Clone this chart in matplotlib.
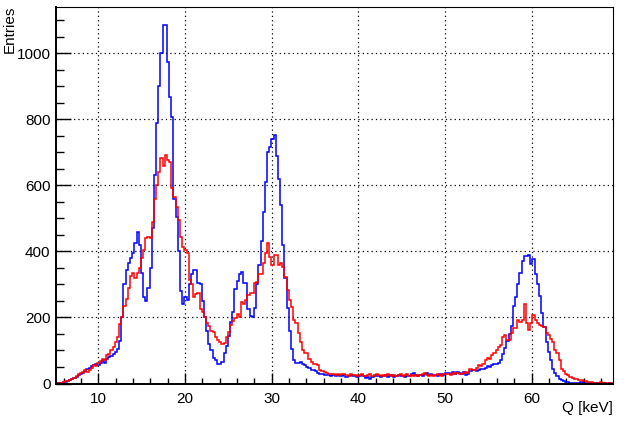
import numpy as np
import matplotlib
matplotlib.use("Agg")
import matplotlib.pyplot as plt
from matplotlib.ticker import MultipleLocator

plt.rcParams['font.family'] = ['Liberation Sans', 'DejaVu Sans']

x_min, x_max, n_bins = 5.1, 69.4, 256
y_max = 1140

# Blue histogram (256 bins, 4 bins per row ~ 1 keV per row)
blue = [
    2, 3, 3, 5,          # 5
    6, 9, 11, 14,        # 6
    17, 21, 25, 29,      # 7
    33, 38, 43, 47,      # 8
    52, 56, 60, 57,      # 9
    63, 67, 62, 74,      # 10
    80, 84, 90, 96,      # 11
    105, 130, 200, 300,  # 12
    345, 365, 380, 395,  # 13
    425, 458, 420, 335,  # 14
    262, 250, 290, 350,  # 15
    470, 630, 790, 900,  # 16
    1000, 1086, 1086, 972,  # 17
    868, 808, 560, 505,  # 18
    400, 280, 242, 262,  # 19
    252, 300, 333, 343,  # 20
    343, 305, 300, 250,  # 21
    200, 160, 120, 100,  # 22
    78, 70, 60, 60,      # 23
    65, 92, 115, 145,    # 24
    185, 215, 285, 310,  # 25
    333, 338, 303, 303,  # 26
    225, 205, 202, 230,  # 27
    300, 360, 430, 520,  # 28
    610, 700, 715, 740,  # 29
    752, 690, 620, 540,  # 30
    420, 320, 230, 160,  # 31
    105, 72, 62, 63,     # 32
    65, 58, 55, 50,      # 33
    46, 42, 40, 37,      # 34
    33, 30, 28, 27,      # 35
    26, 25, 24, 25,      # 36
    23, 26, 22, 24,      # 37
    25, 21, 23, 26,      # 38
    22, 24, 20, 23,      # 39
    25, 22, 18, 21,      # 40
    15, 20, 24, 22,      # 41
    23, 19, 24, 26,      # 42
    21, 22, 25, 20,      # 43
    24, 27, 23, 22,      # 44
    19, 24, 22, 28,      # 45
    32, 26, 24, 25,      # 46
    22, 28, 33, 25,      # 47
    30, 27, 25, 24,      # 48
    28, 30, 26, 32,      # 49
    33, 28, 35, 30,      # 50
    36, 33, 30, 36,      # 51
    25, 30, 38, 40,      # 52
    42, 38, 40, 44,      # 53
    45, 48, 52, 50,      # 54
    55, 58, 60, 63,      # 55
    72, 88, 108, 128,    # 56
    150, 175, 235, 262,  # 57
    300, 335, 370, 385,  # 58
    385, 389, 362, 378,  # 59
    333, 300, 265, 212,  # 60
    170, 125, 95, 70,    # 61
    45, 32, 22, 15,      # 62
    10, 7, 5, 4,         # 63
    3, 2, 3, 2,          # 64
    2, 4, 2, 1,          # 65
    2, 1, 2, 1,          # 66
    1, 2, 1, 1,          # 67
    1, 0, 1, 0,          # 68
]

# Red histogram
red = [
    1, 2, 3, 5,          # 5
    7, 9, 12, 15,        # 6
    18, 24, 28, 32,      # 7
    35, 40, 36, 42,      # 8
    48, 55, 52, 62,      # 9
    68, 75, 72, 85,      # 10
    90, 100, 112, 125,   # 11
    140, 180, 200, 235,  # 12
    255, 290, 325, 335,  # 13
    320, 335, 350, 380,  # 14
    405, 440, 445, 440,  # 15
    490, 560, 600, 640,  # 16
    682, 658, 692, 676,  # 17
    672, 591, 565, 535,  # 18
    495, 444, 414, 405,  # 19
    394, 313, 300, 262,  # 20
    270, 275, 227, 217,  # 21
    200, 182, 175, 160,  # 22
    157, 140, 131, 126,  # 23
    121, 124, 140, 155,  # 24
    177, 190, 197, 210,  # 25
    202, 247, 242, 252,  # 26
    267, 273, 273, 303,  # 27
    308, 333, 333, 364,  # 28
    394, 424, 384, 359,  # 29
    390, 389, 359, 364,  # 30
    354, 323, 283, 252,  # 31
    232, 192, 182, 152,  # 32
    126, 100, 91, 92,    # 33
    75, 65, 60, 60,      # 34
    55, 42, 38, 35,      # 35
    33, 30, 28, 30,      # 36
    27, 29, 25, 28,      # 37
    30, 26, 24, 29,      # 38
    25, 27, 23, 26,      # 39
    28, 24, 22, 25,      # 40
    28, 24, 26, 30,      # 41
    25, 22, 27, 24,      # 42
    29, 25, 23, 27,      # 43
    22, 26, 30, 24,      # 44
    25, 28, 22, 26,      # 45
    24, 27, 22, 26,      # 46
    29, 31, 27, 24,      # 47
    26, 22, 25, 30,      # 48
    27, 24, 28, 29,      # 49
    30, 27, 32, 29,      # 50
    33, 28, 30, 31,      # 51
    36, 33, 45, 40,      # 52
    42, 48, 55, 52,      # 53
    60, 70, 76, 75,      # 54
    85, 92, 100, 111,    # 55
    116, 141, 146, 131,  # 56
    131, 152, 167, 167,  # 57
    192, 187, 192, 242,  # 58
    182, 162, 182, 207,  # 59
    192, 182, 177, 175,  # 60
    172, 152, 146, 135,  # 61
    126, 101, 91, 71,    # 62
    45, 38, 30, 25,      # 63
    20, 17, 15, 13,      # 64
    12, 10, 8, 7,        # 65
    5, 6, 4, 3,          # 66
    3, 2, 4, 2,          # 67
    2, 1, 2, 1,          # 68
]

x_ticks = [10, 20, 30, 40, 50, 60]
y_ticks = [0, 200, 400, 600, 800, 1000]
x_label = "Q [keV]"
y_label = "Entries"

edges = np.linspace(x_min, x_max, n_bins + 1)

W, H = 624, 425
fig = plt.figure(figsize=(W / 100, H / 100), dpi=100)
ax = fig.add_axes([56 / W, (H - 383.5) / H, (613 - 56) / W, (383.5 - 7) / H])

ax.stairs(blue, edges, color='#0000ff', lw=1.1, baseline=0)
ax.stairs(red, edges, color='#ff0000', lw=1.1, baseline=0)

ax.set_xlim(x_min, x_max)
ax.set_ylim(0, y_max)
ax.set_xticks(x_ticks)
ax.set_yticks(y_ticks)
ax.xaxis.set_minor_locator(MultipleLocator(2))
ax.yaxis.set_minor_locator(MultipleLocator(50))

ax.grid(True, which='major', color='black', linestyle=(0, (1, 2.5)), lw=0.9)
ax.set_axisbelow(True)

ax.tick_params(axis='both', which='both', direction='in', top=False, right=False,
               labelsize=11, colors='black')
ax.tick_params(axis='y', which='major', length=11, width=1, pad=4)
ax.tick_params(axis='y', which='minor', length=6, width=1)
ax.tick_params(axis='x', which='major', length=8, width=1, pad=6)
ax.tick_params(axis='x', which='minor', length=4.5, width=1)

for s in ['left', 'bottom']:
    ax.spines[s].set_linewidth(1.4)
for s in ['top', 'right']:
    ax.spines[s].set_linewidth(0.8)

fig.text(613 / W, 1 - 401 / H, x_label, fontsize=11, ha='right', va='top')
fig.text(10 / W, 1 - 6 / H, y_label, fontsize=11, rotation=90, ha='center', va='top')

fig.savefig("out.png", dpi=100)
